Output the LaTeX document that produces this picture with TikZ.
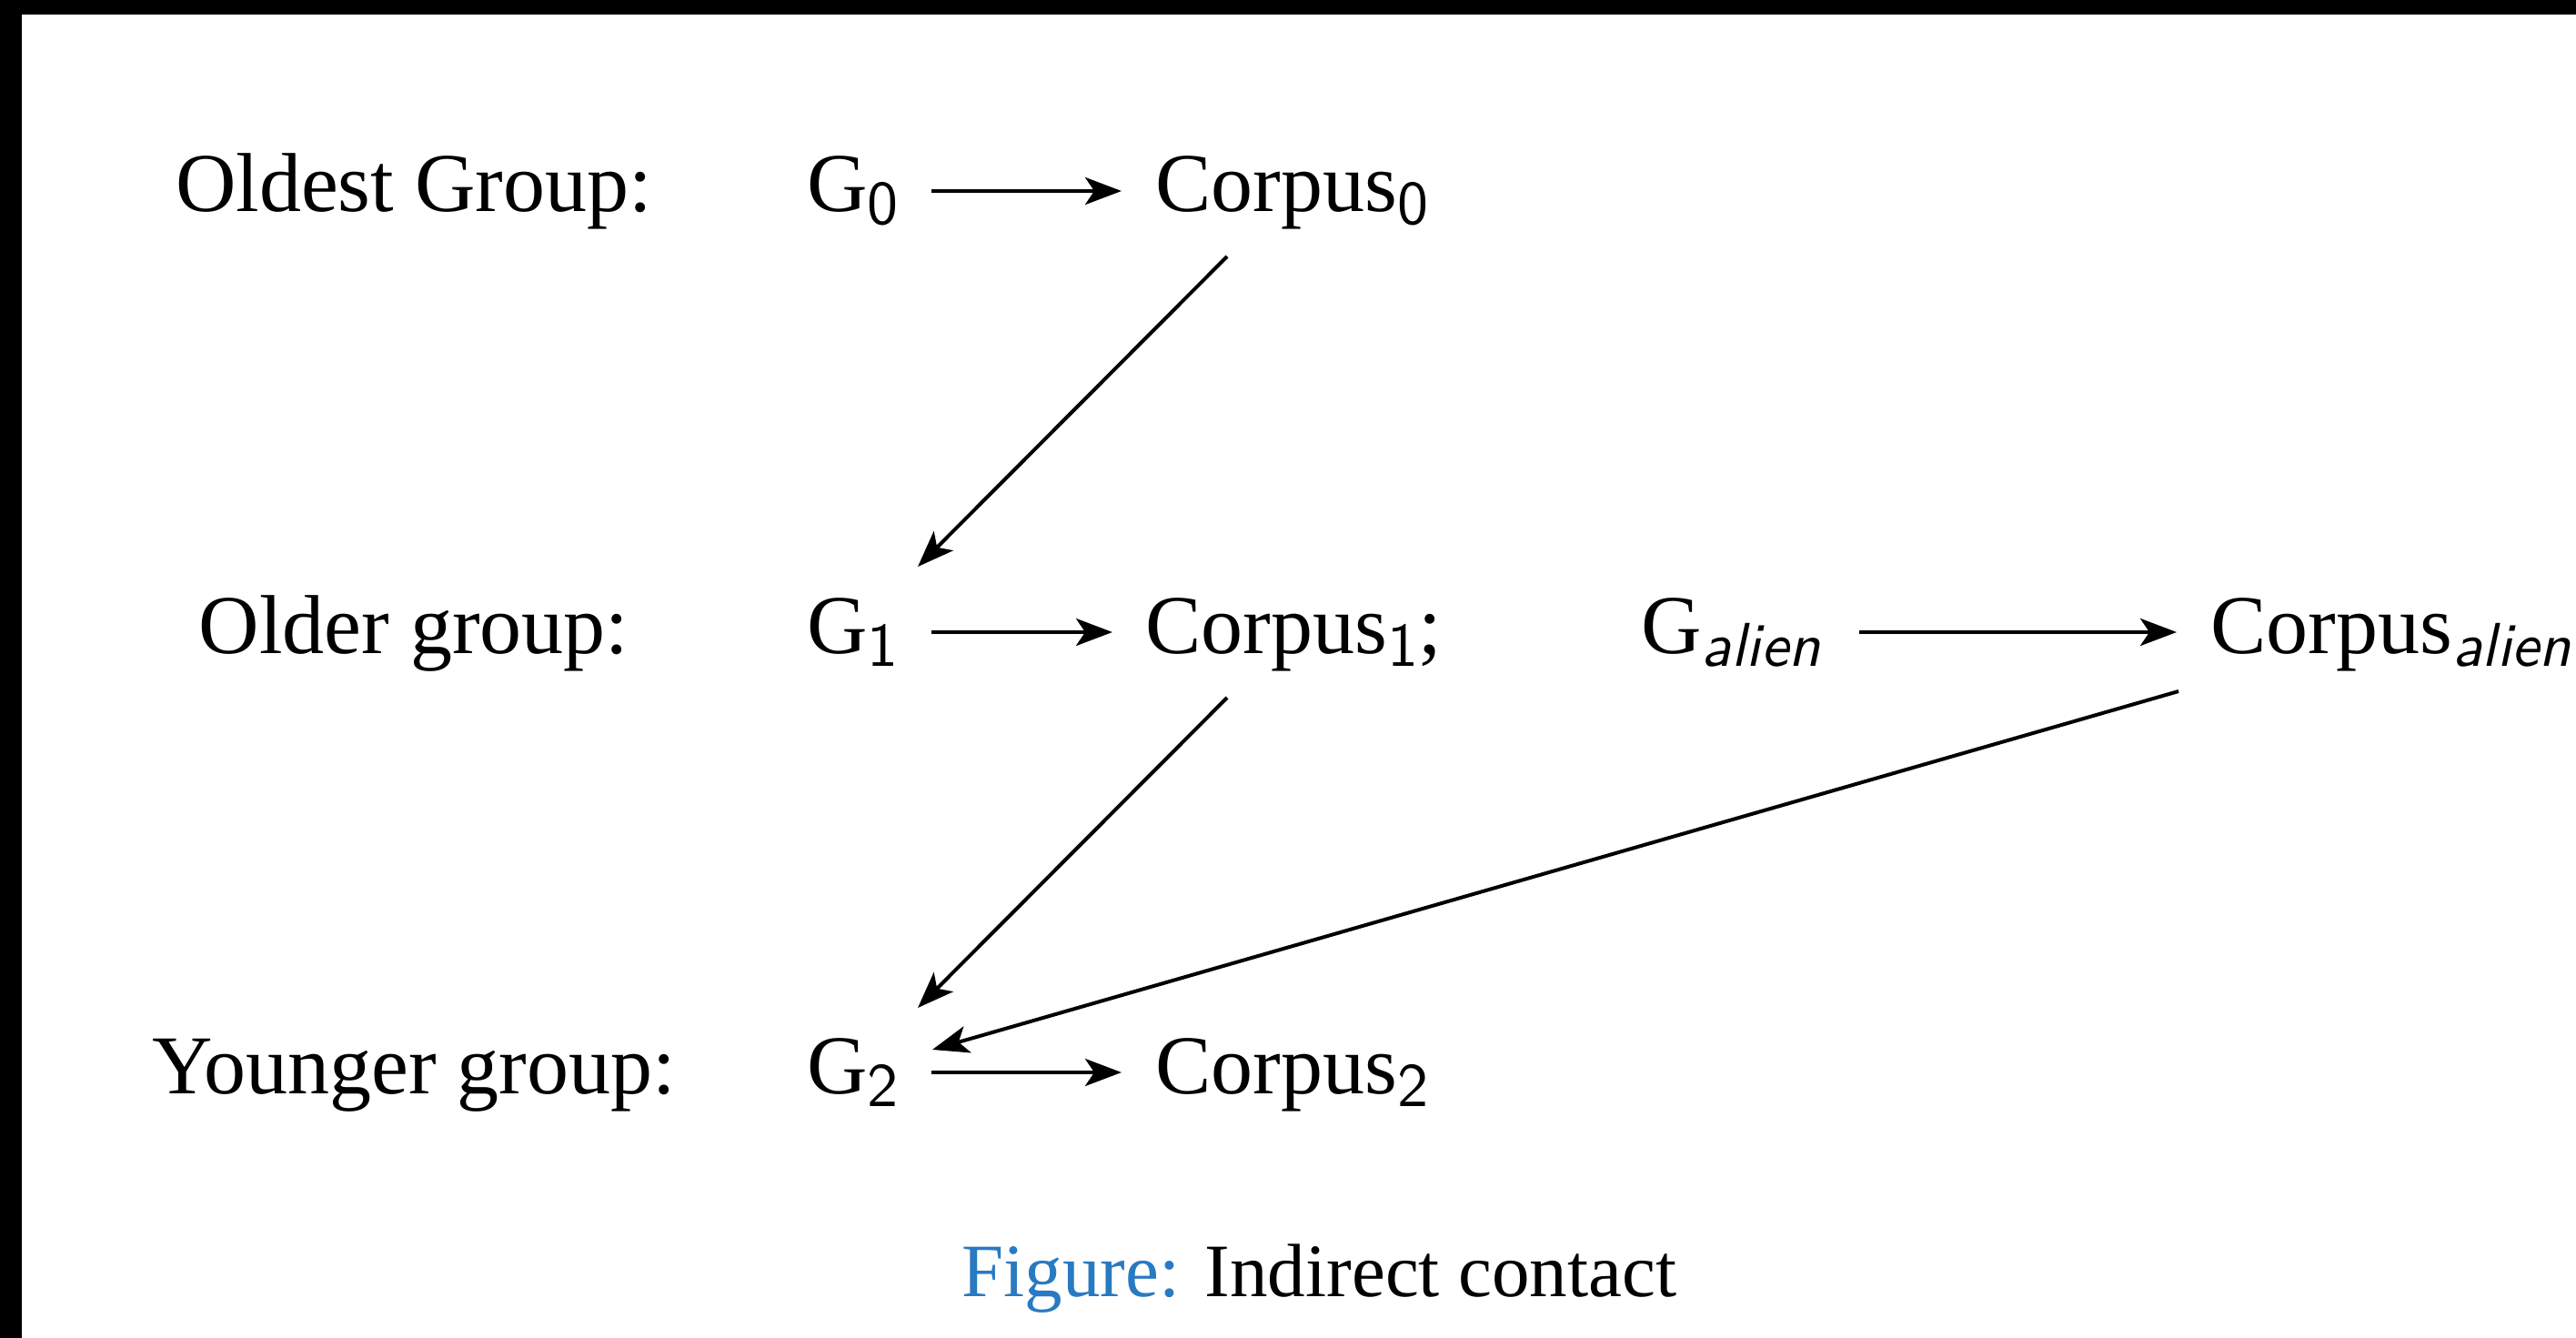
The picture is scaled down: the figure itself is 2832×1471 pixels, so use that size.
\documentclass[tikz,border=0pt]{standalone}
\usepackage{fontspec}
\setmainfont{Liberation Serif}
\newfontfamily\subsf{lmsans10-regular}[Extension=.otf, ItalicFont=lmsans10-oblique]
\usetikzlibrary{arrows.meta,calc}
\definecolor{capblue}{RGB}{40,122,194}
\newcommand\mysub[1]{\raisebox{-7pt}{\subsf\fontsize{34}{34}\selectfont #1}}
\begin{document}
\begin{tikzpicture}[x=0.5pt,y=-0.5pt,
  txt/.style={inner sep=0pt,anchor=base west,font=\fontsize{46}{50}\selectfont},
  lbl/.style={inner sep=0pt,anchor=base,font=\fontsize{46}{50}\selectfont},
  arr/.style={-{Stealth[length=20pt,width=15pt,inset=5pt]},line width=2pt}]
\useasboundingbox (0,0) rectangle (2832,1471);
\clip (0,0) rectangle (2832,1471);
\fill[white] (0,0) rectangle (2832,1471);
\fill[black] (0,0) rectangle (2832,16);
\fill[black] (0,0) rectangle (24,1471);
% labels
\node[lbl] (L0) at (455,233) {Oldest Group:};
\node[lbl] (L1) at (455,718) {Older group:};
\node[lbl] (L2) at (455,1202) {Younger group:};
% nodes
\node[txt] (G0) at (887,233) {G\mysub{0}};
\node[txt] (C0) at (1270,233) {Corpus\mysub{0}};
\node[txt] (G1) at (887,718) {G\mysub{1}};
\node[txt] (C1) at (1259,718) {Corpus\mysub{1};};
\node[txt] (GA) at (1804,718) {G\mysub{\itshape alien}};
\node[txt] (CA) at (2430,718) {Corpus\mysub{\itshape alien}};
\node[txt] (G2) at (887,1202) {G\mysub{2}};
\node[txt] (C2) at (1270,1202) {Corpus\mysub{2}};
% caption
\node[inner sep=0pt,anchor=base west,font=\fontsize{41.5}{45}\selectfont] (cap) at (1057,1425) {\textcolor{capblue}{Figure:} Indirect contact};
% horizontal arrows
\draw[arr] ($(G0.base west)+(137,-23)$) -- ($(C0.base west)+(-37,-23)$);
\draw[arr] ($(G1.base west)+(137,-23)$) -- ($(C1.base west)+(-36,-23)$);
\draw[arr] ($(GA.base west)+(240,-23)$) -- ($(CA.base west)+(-37,-23)$);
\draw[arr] ($(G2.base west)+(137,-23)$) -- ($(C2.base west)+(-37,-23)$);
% diagonal arrows
\draw[arr] ($(C0.base west)+(79,49)$) -- ($(G1.base west)+(122,-95)$);
\draw[arr] ($(C1.base west)+(90,49)$) -- ($(G2.base west)+(122,-94)$);
\draw[arr] ($(CA.base west)+(-35,42)$) -- ($(G2.base west)+(138,-48)$);
\end{tikzpicture}
\end{document}
